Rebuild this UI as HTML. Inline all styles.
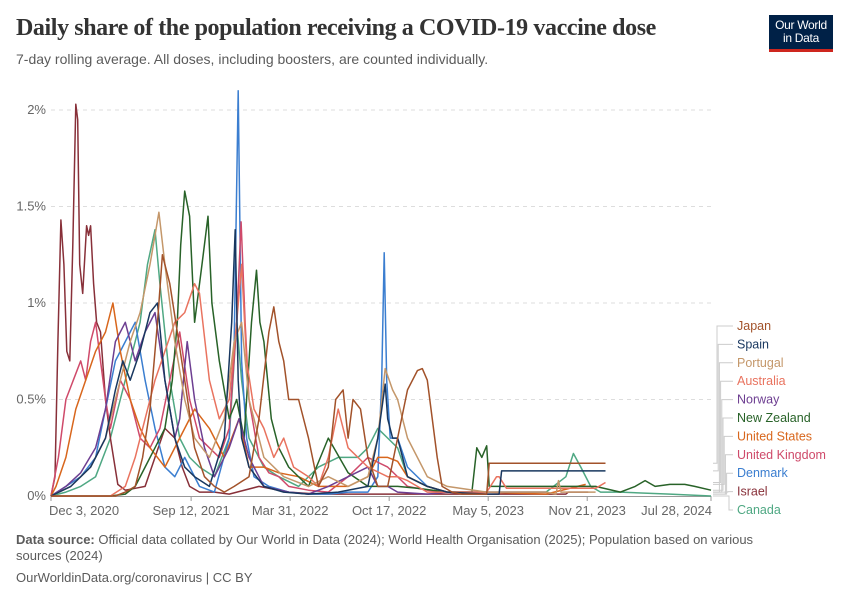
<!DOCTYPE html>
<html><head><meta charset="utf-8">
<style>
body{margin:0;background:#fff;font-family:"Liberation Sans",sans-serif;}
#wrap{position:relative;width:850px;height:600px;overflow:hidden;}
h1{position:absolute;left:16px;top:15px;margin:0;font-family:"Liberation Serif",serif;font-weight:bold;font-size:24px;color:#333;letter-spacing:-0.4px;}
.sub{position:absolute;left:16px;top:51px;font-size:14px;color:#5b5b5b;}
.logo{position:absolute;left:769px;top:15px;width:64px;height:37px;background:#002147;border-bottom:3px solid #ce261e;color:#fff;font-size:12px;line-height:13px;text-align:center;padding-top:4px;box-sizing:border-box;letter-spacing:-0.3px;}
.foot{position:absolute;left:16px;font-size:13px;color:#5b5b5b;}
</style></head><body>
<div id="wrap">
<h1>Daily share of the population receiving a COVID-19 vaccine dose</h1>
<div class="sub">7-day rolling average. All doses, including boosters, are counted individually.</div>
<div class="logo">Our World<br>in Data</div>
<svg id="chart" width="850" height="600" style="position:absolute;left:0;top:0"></svg>
<div class="foot" style="top:532px;width:780px;line-height:16px"><b>Data source:</b> Official data collated by Our World in Data (2024); World Health Organisation (2025); Population based on various sources (2024)</div>
<div class="foot" style="top:570px">OurWorldinData.org/coronavirus | CC BY</div>
</div>
<script>
const yTicks=[0,0.5,1,1.5,2];
const yTickLabels=["0%","0.5%","1%","1.5%","2%"];
const xTickDays=[0,283,483,683,883,1083,1333];
const xTickLabels=["Dec 3, 2020","Sep 12, 2021","Mar 31, 2022","Oct 17, 2022","May 5, 2023","Nov 21, 2023","Jul 28, 2024"];
const seriesNames=["Japan","Spain","Portugal","Australia","Norway","New Zealand","United States","United Kingdom","Denmark","Israel","Canada"];
const seriesColors=["#a2522a","#18375f","#c4976a","#e9735f","#6d3e91","#286228","#d8661c","#cf4a6a","#3b7ed0","#883039","#4fa883"];
const japanDays=[0,130,150,170,185,200,215,225,240,255,270,290,310,330,350,370,400,420,440,450,460,470,480,500,520,540,560,575,590,600,610,625,640,660,680,700,720,740,750,760,780,790,810,830,880,885,1120];
const japanVals=[0,0,0.02,0.05,0.2,0.45,0.9,1.25,1.1,0.85,0.6,0.25,0.1,0.05,0.02,0.05,0.1,0.4,0.85,0.98,0.8,0.7,0.5,0.5,0.3,0.05,0.15,0.5,0.55,0.3,0.5,0.45,0.2,0.05,0.05,0.3,0.55,0.65,0.66,0.6,0.2,0.05,0.02,0.01,0.01,0.17,0.17];
const spainDays=[0,40,80,110,130,145,160,180,200,215,230,250,270,290,320,350,365,372,378,385,400,430,470,520,580,640,660,675,680,690,700,720,760,800,880,905,910,1120];
const spainVals=[0,0.05,0.15,0.3,0.55,0.7,0.6,0.75,0.95,1.0,0.6,0.3,0.15,0.1,0.05,0.3,0.9,1.38,0.6,0.3,0.15,0.05,0.02,0.01,0.02,0.05,0.3,0.58,0.4,0.3,0.3,0.1,0.05,0.02,0.01,0.01,0.13,0.13];
const portugalDays=[0,40,80,110,140,160,180,200,210,218,230,250,270,290,320,350,370,385,400,430,470,520,560,600,640,660,675,690,700,720,760,800,880,1000,1020,1025,1030,1100];
const portugalVals=[0,0.05,0.15,0.3,0.6,0.8,0.95,1.2,1.35,1.47,1.2,0.8,0.5,0.3,0.2,0.4,0.8,0.9,0.5,0.2,0.1,0.05,0.1,0.05,0.1,0.3,0.66,0.55,0.5,0.3,0.1,0.05,0.02,0.02,0.01,0.08,0.02,0.02];
const australiaDays=[0,120,150,170,190,210,230,250,270,290,300,320,340,360,375,385,395,410,430,450,470,490,520,540,560,580,600,640,680,700,720,740,760,800,880,900,905,920,1000,1100,1120];
const australiaVals=[0,0,0.05,0.2,0.4,0.6,0.75,0.9,0.95,1.1,1.05,0.6,0.4,0.5,0.9,1.2,0.7,0.45,0.35,0.2,0.3,0.15,0.1,0.05,0.2,0.45,0.25,0.15,0.1,0.1,0.08,0.05,0.02,0.02,0.02,0.1,0.1,0.04,0.04,0.04,0.07];
const norwayDays=[0,30,60,90,110,130,150,170,190,210,230,250,260,275,290,310,330,360,380,400,430,480,520,560,600,640,660,680,700,760,800,880,1000];
const norwayVals=[0,0.05,0.12,0.25,0.45,0.8,0.9,0.7,0.85,0.95,0.6,0.3,0.4,0.8,0.5,0.25,0.1,0.25,0.4,0.2,0.05,0.02,0.01,0.05,0.1,0.15,0.05,0.05,0.02,0.01,0.02,0.02,0.02];
const nzDays=[0,120,150,170,190,210,230,245,255,262,270,280,290,305,317,325,340,360,375,390,405,415,422,430,445,460,480,520,560,600,640,700,740,800,850,860,870,880,885,900,1000,1100,1150,1180,1200,1220,1250,1280,1300,1333];
const nzVals=[0,0,0.01,0.05,0.15,0.25,0.35,0.6,0.9,1.3,1.58,1.45,0.9,1.2,1.45,1.0,0.7,0.4,0.5,0.3,0.9,1.17,0.9,0.8,0.4,0.25,0.15,0.05,0.3,0.12,0.05,0.05,0.04,0.02,0.02,0.25,0.2,0.26,0.05,0.05,0.05,0.05,0.02,0.05,0.08,0.05,0.06,0.06,0.05,0.03];
const usDays=[0,10,30,50,70,90,110,125,140,160,180,200,230,260,290,320,350,380,400,430,460,500,540,600,640,660,680,700,720,760,800,880,1000,1080];
const usVals=[0,0.05,0.2,0.45,0.6,0.75,0.85,1.0,0.75,0.5,0.35,0.25,0.15,0.3,0.45,0.35,0.2,0.4,0.15,0.15,0.12,0.1,0.05,0.05,0.1,0.2,0.2,0.18,0.1,0.05,0.02,0.02,0.01,0.06];
const ukDays=[0,15,30,45,60,70,80,90,100,110,120,140,160,180,200,220,240,260,280,300,320,340,360,375,384,392,400,420,440,460,480,520,560,600,640,680,720,760,800,880];
const ukVals=[0,0.2,0.5,0.6,0.7,0.6,0.8,0.9,0.7,0.5,0.35,0.6,0.5,0.3,0.25,0.35,0.6,0.85,0.5,0.3,0.25,0.2,0.35,0.9,1.42,0.9,0.5,0.2,0.12,0.1,0.05,0.03,0.02,0.1,0.2,0.15,0.05,0.03,0.02,0.01];
const denmarkDays=[0,30,60,90,110,130,150,170,190,210,230,250,270,300,330,360,370,378,385,395,410,440,480,520,560,600,640,660,668,673,678,685,700,720,760,800,860];
const denmarkVals=[0,0.05,0.1,0.2,0.45,0.7,0.8,0.9,0.6,0.35,0.15,0.1,0.2,0.05,0.02,0.3,0.8,2.1,0.7,0.3,0.1,0.05,0.02,0.01,0.01,0.02,0.02,0.1,0.6,1.26,0.6,0.3,0.3,0.15,0.05,0.02,0.01];
const israelDays=[0,8,14,20,26,32,38,44,50,54,58,64,72,76,80,86,92,100,110,120,135,150,170,190,210,230,250,265,280,300,330,360,420,480,540,600,700,800,1000,1040,1045,1085];
const israelVals=[0,0.1,0.8,1.43,1.2,0.75,0.7,1.3,2.03,1.95,1.2,1.05,1.4,1.35,1.4,1.1,0.9,0.85,0.5,0.3,0.06,0.03,0.04,0.05,0.2,0.35,0.3,0.15,0.05,0.02,0.02,0.01,0.05,0.02,0.01,0.01,0.01,0.01,0.01,0.01,0.02,0.02];
const canadaDays=[0,30,60,90,120,140,160,180,195,210,220,240,260,280,300,330,360,375,385,400,430,460,500,540,580,620,640,660,680,700,720,760,800,880,1000,1040,1055,1070,1090,1110,1150,1250,1333];
const canadaVals=[0,0.02,0.05,0.1,0.3,0.5,0.7,0.9,1.2,1.38,1.1,0.6,0.3,0.2,0.15,0.1,0.3,0.9,0.6,0.3,0.15,0.1,0.05,0.15,0.2,0.2,0.25,0.35,0.3,0.25,0.1,0.05,0.02,0.02,0.02,0.1,0.22,0.15,0.05,0.02,0.02,0.01,0.0];
const allDays=[japanDays,spainDays,portugalDays,australiaDays,norwayDays,nzDays,usDays,ukDays,denmarkDays,israelDays,canadaDays];
const allVals=[japanVals,spainVals,portugalVals,australiaVals,norwayVals,nzVals,usVals,ukVals,denmarkVals,israelVals,canadaVals];

const svg=document.getElementById('chart');const NS='http://www.w3.org/2000/svg';
const X0=51,X1=711,Y0=496,Y2=110;
const xs=d=>X0+d/1333*(X1-X0);
const ys=v=>Y0-v/2*(Y0-Y2);
function mk(t,a){const e=document.createElementNS(NS,t);for(const k in a)e.setAttribute(k,a[k]);svg.appendChild(e);return e;}
yTicks.forEach((t,i)=>{
 if(t>0){const g=mk('line',{x1:X0,x2:X1,y1:ys(t),y2:ys(t),stroke:'#ddd','stroke-dasharray':'4,4'});
 
 }
 const l=mk('text',{x:46,y:ys(t)+4,'text-anchor':'end','font-size':13,fill:'#666'});l.textContent=yTickLabels[i];
 
 
});
const ax=mk('line',{x1:X0,x2:X1,y1:Y0+0.5,y2:Y0+0.5,stroke:'#999'});


xTickDays.forEach((d,i)=>{
 const tk=mk('line',{x1:xs(d),x2:xs(d),y1:Y0,y2:Y0+5,stroke:'#999'});
 
 
 const anc=i==0?'start':(i==xTickDays.length-1?'end':'middle');
 const l=mk('text',{x:xs(d)+(i==0?-2:i==xTickDays.length-1?1:0),y:515,'text-anchor':anc,'font-size':13,fill:'#666'});l.textContent=xTickLabels[i];
 
 
});
for(let s=seriesNames.length-1;s>=0;s--){
 const pts=allDays[s].map((d,i)=>xs(d).toFixed(1)+','+ys(allVals[s][i]).toFixed(1)).join(' ');
 const p=mk('polyline',{points:pts,fill:'none',stroke:seriesColors[s],'stroke-width':1.5,'stroke-linejoin':'round'});
 
 
}
seriesNames.forEach((n,i)=>{
 const y=326+i*18.4;const last=allVals[i][allVals[i].length-1];
 const bx=717+i*1.2;
 const c=mk('path',{d:`M${X1+2},${ys(last)} H${bx} V${y} H${733}`,fill:'none',stroke:'#ccc','stroke-width':1});
 
 
 const t=mk('text',{x:737,y:y+4,'font-size':12.5,fill:seriesColors[i]});t.textContent=n;
 
 
});
</script>
</body></html>
